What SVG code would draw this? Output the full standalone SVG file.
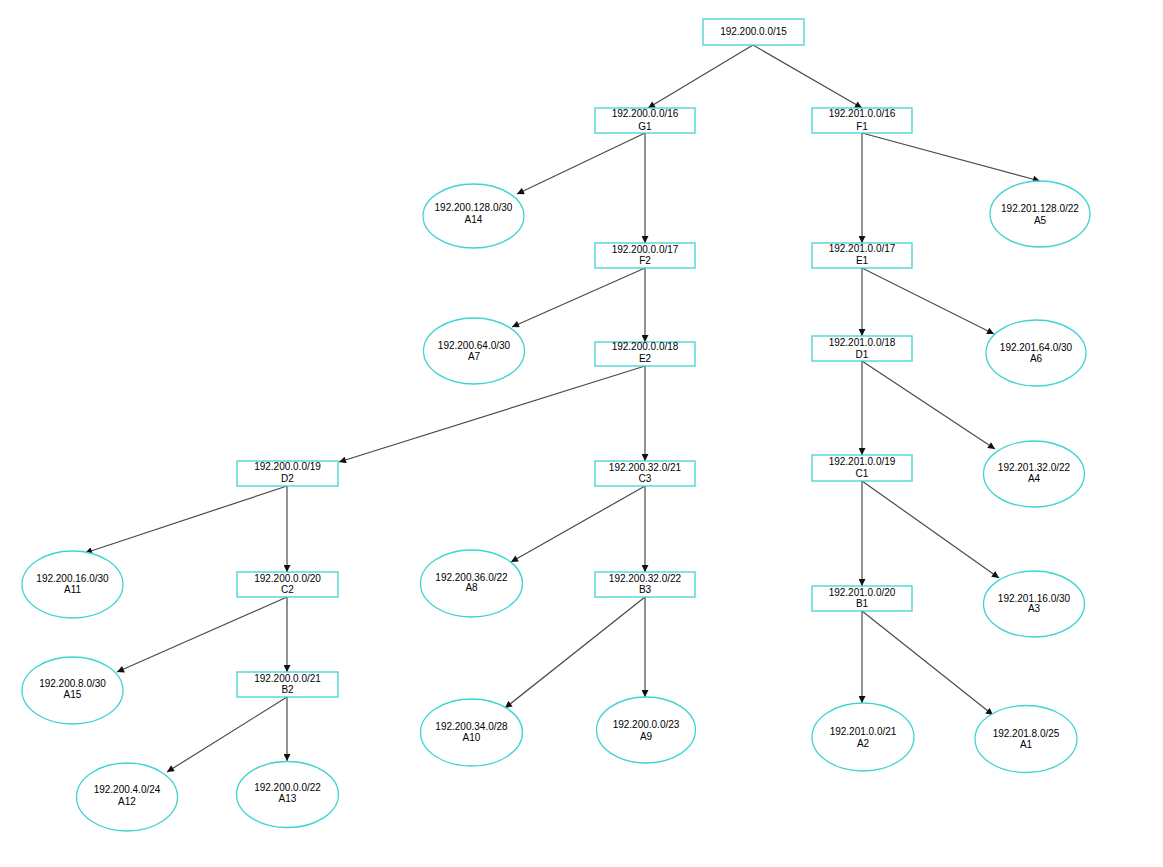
<svg xmlns="http://www.w3.org/2000/svg" width="1163" height="867" viewBox="0 0 1163 867">
<style>
.n{fill:#fff;stroke:#3fd3d3;stroke-width:1.3}
.t{font-family:"Liberation Sans",Arial,sans-serif;font-size:10px;fill:#000;text-anchor:middle}
.e{fill:none;stroke:#4a4a4a;stroke-width:1.2;marker-end:url(#ah)}
</style>
<defs>
<marker id="ah" viewBox="0 0 10 10" refX="10" refY="5" markerWidth="8" markerHeight="7" markerUnits="userSpaceOnUse" orient="auto">
<path d="M0,0 L10,5 L0,10 z" fill="#111"/>
</marker>
</defs>
<rect width="1163" height="867" fill="#fff"/>
<g id="connectors">
<line class="e" x1="753" y1="45" x2="648" y2="108"/>
<line class="e" x1="753" y1="45" x2="862" y2="108"/>
<line class="e" x1="645" y1="133" x2="517" y2="194"/>
<line class="e" x1="645" y1="133" x2="645" y2="243"/>
<line class="e" x1="645" y1="268" x2="512" y2="327"/>
<line class="e" x1="645" y1="268" x2="645" y2="342"/>
<line class="e" x1="645" y1="366" x2="339" y2="462"/>
<line class="e" x1="645" y1="366" x2="645" y2="461"/>
<line class="e" x1="645" y1="486" x2="511" y2="562"/>
<line class="e" x1="645" y1="486" x2="645" y2="572"/>
<line class="e" x1="645" y1="597" x2="505" y2="708"/>
<line class="e" x1="645" y1="597" x2="645" y2="697"/>
<line class="e" x1="287" y1="486" x2="85" y2="553"/>
<line class="e" x1="287" y1="486" x2="287" y2="572"/>
<line class="e" x1="287" y1="597" x2="117" y2="672"/>
<line class="e" x1="287" y1="597" x2="287" y2="672"/>
<line class="e" x1="287" y1="697" x2="167" y2="772"/>
<line class="e" x1="287" y1="697" x2="287" y2="761"/>
<line class="e" x1="862" y1="133" x2="1040" y2="181"/>
<line class="e" x1="862" y1="133" x2="862" y2="243"/>
<line class="e" x1="862" y1="268" x2="994" y2="334"/>
<line class="e" x1="862" y1="268" x2="862" y2="336"/>
<line class="e" x1="862" y1="361" x2="995" y2="449"/>
<line class="e" x1="862" y1="361" x2="862" y2="455"/>
<line class="e" x1="862" y1="481" x2="999" y2="578"/>
<line class="e" x1="862" y1="481" x2="862" y2="586"/>
<line class="e" x1="862" y1="611" x2="862" y2="703"/>
<line class="e" x1="862" y1="611" x2="993" y2="715"/>
</g>
<g id="root"><rect class="n" x="703" y="19" width="101" height="26"/><text class="t" x="753.5" y="35">192.200.0.0/15</text></g>
<g id="G1"><rect class="n" x="595" y="108" width="100" height="25"/><text class="t" x="645" y="117">192.200.0.0/16</text><text class="t" x="645" y="130">G1</text></g>
<g id="F1"><rect class="n" x="812" y="108" width="100" height="25"/><text class="t" x="862" y="117">192.201.0.0/16</text><text class="t" x="862" y="130">F1</text></g>
<g id="F2"><rect class="n" x="595" y="243" width="100" height="25"/><text class="t" x="645" y="253">192.200.0.0/17</text><text class="t" x="645" y="264">F2</text></g>
<g id="E2"><rect class="n" x="595" y="342" width="100" height="24"/><text class="t" x="645" y="350">192.200.0.0/18</text><text class="t" x="645" y="362">E2</text></g>
<g id="E1"><rect class="n" x="812" y="243" width="100" height="25"/><text class="t" x="862" y="252">192.201.0.0/17</text><text class="t" x="862" y="264">E1</text></g>
<g id="D1"><rect class="n" x="812" y="336" width="100" height="25"/><text class="t" x="862" y="346">192.201.0.0/18</text><text class="t" x="862" y="358">D1</text></g>
<g id="C1"><rect class="n" x="812" y="455" width="100" height="26"/><text class="t" x="862" y="465">192.201.0.0/19</text><text class="t" x="862" y="477">C1</text></g>
<g id="B1"><rect class="n" x="812" y="586" width="100" height="25"/><text class="t" x="862" y="596">192.201.0.0/20</text><text class="t" x="862" y="607">B1</text></g>
<g id="D2"><rect class="n" x="237" y="461" width="101" height="25"/><text class="t" x="287.5" y="470">192.200.0.0/19</text><text class="t" x="287.5" y="482">D2</text></g>
<g id="C2"><rect class="n" x="237" y="572" width="101" height="25"/><text class="t" x="287.5" y="582">192.200.0.0/20</text><text class="t" x="287.5" y="593">C2</text></g>
<g id="B2"><rect class="n" x="237" y="672" width="101" height="25"/><text class="t" x="287.5" y="682">192.200.0.0/21</text><text class="t" x="287.5" y="693">B2</text></g>
<g id="C3"><rect class="n" x="595" y="461" width="100" height="25"/><text class="t" x="645" y="471">192.200.32.0/21</text><text class="t" x="645" y="482">C3</text></g>
<g id="B3"><rect class="n" x="595" y="572" width="100" height="25"/><text class="t" x="645" y="582">192.200.32.0/22</text><text class="t" x="645" y="593">B3</text></g>
<g id="A14"><ellipse class="n" cx="473.5" cy="216" rx="50.5" ry="32"/><text class="t" x="473.5" y="211">192.200.128.0/30</text><text class="t" x="473.5" y="223">A14</text></g>
<g id="A7"><ellipse class="n" cx="474" cy="351" rx="50.5" ry="33"/><text class="t" x="474" y="349">192.200.64.0/30</text><text class="t" x="474" y="360">A7</text></g>
<g id="A5"><ellipse class="n" cx="1040" cy="214" rx="50" ry="33"/><text class="t" x="1040" y="212">192.201.128.0/22</text><text class="t" x="1040" y="224">A5</text></g>
<g id="A6"><ellipse class="n" cx="1036" cy="353" rx="50" ry="33"/><text class="t" x="1036" y="351">192.201.64.0/30</text><text class="t" x="1036" y="362">A6</text></g>
<g id="A4"><ellipse class="n" cx="1034" cy="474" rx="50.5" ry="33"/><text class="t" x="1034" y="471">192.201.32.0/22</text><text class="t" x="1034" y="482">A4</text></g>
<g id="A3"><ellipse class="n" cx="1034" cy="604" rx="50.5" ry="33"/><text class="t" x="1034" y="602">192.201.16.0/30</text><text class="t" x="1034" y="612">A3</text></g>
<g id="A2"><ellipse class="n" cx="863" cy="737" rx="51" ry="34"/><text class="t" x="863" y="735">192.201.0.0/21</text><text class="t" x="863" y="747">A2</text></g>
<g id="A1"><ellipse class="n" cx="1026" cy="739" rx="51" ry="33.5"/><text class="t" x="1026" y="737">192.201.8.0/25</text><text class="t" x="1026" y="748">A1</text></g>
<g id="A11"><ellipse class="n" cx="72.5" cy="584.5" rx="50.5" ry="33.5"/><text class="t" x="72.5" y="582">192.200.16.0/30</text><text class="t" x="72.5" y="593">A11</text></g>
<g id="A15"><ellipse class="n" cx="72.5" cy="690.5" rx="50.5" ry="33.5"/><text class="t" x="72.5" y="687">192.200.8.0/30</text><text class="t" x="72.5" y="698">A15</text></g>
<g id="A12"><ellipse class="n" cx="127" cy="797" rx="50.5" ry="34"/><text class="t" x="127" y="793">192.200.4.0/24</text><text class="t" x="127" y="805">A12</text></g>
<g id="A13"><ellipse class="n" cx="287.5" cy="794.5" rx="51" ry="33"/><text class="t" x="287.5" y="791">192.200.0.0/22</text><text class="t" x="287.5" y="802">A13</text></g>
<g id="A8"><ellipse class="n" cx="471.5" cy="583.5" rx="51" ry="33.5"/><text class="t" x="471.5" y="581">192.200.36.0/22</text><text class="t" x="471.5" y="591">A8</text></g>
<g id="A10"><ellipse class="n" cx="471.5" cy="732.5" rx="51" ry="33.5"/><text class="t" x="471.5" y="730">192.200.34.0/28</text><text class="t" x="471.5" y="741">A10</text></g>
<g id="A9"><ellipse class="n" cx="646" cy="730" rx="49.5" ry="33"/><text class="t" x="646" y="728">192.200.0.0/23</text><text class="t" x="646" y="740">A9</text></g>
</svg>
